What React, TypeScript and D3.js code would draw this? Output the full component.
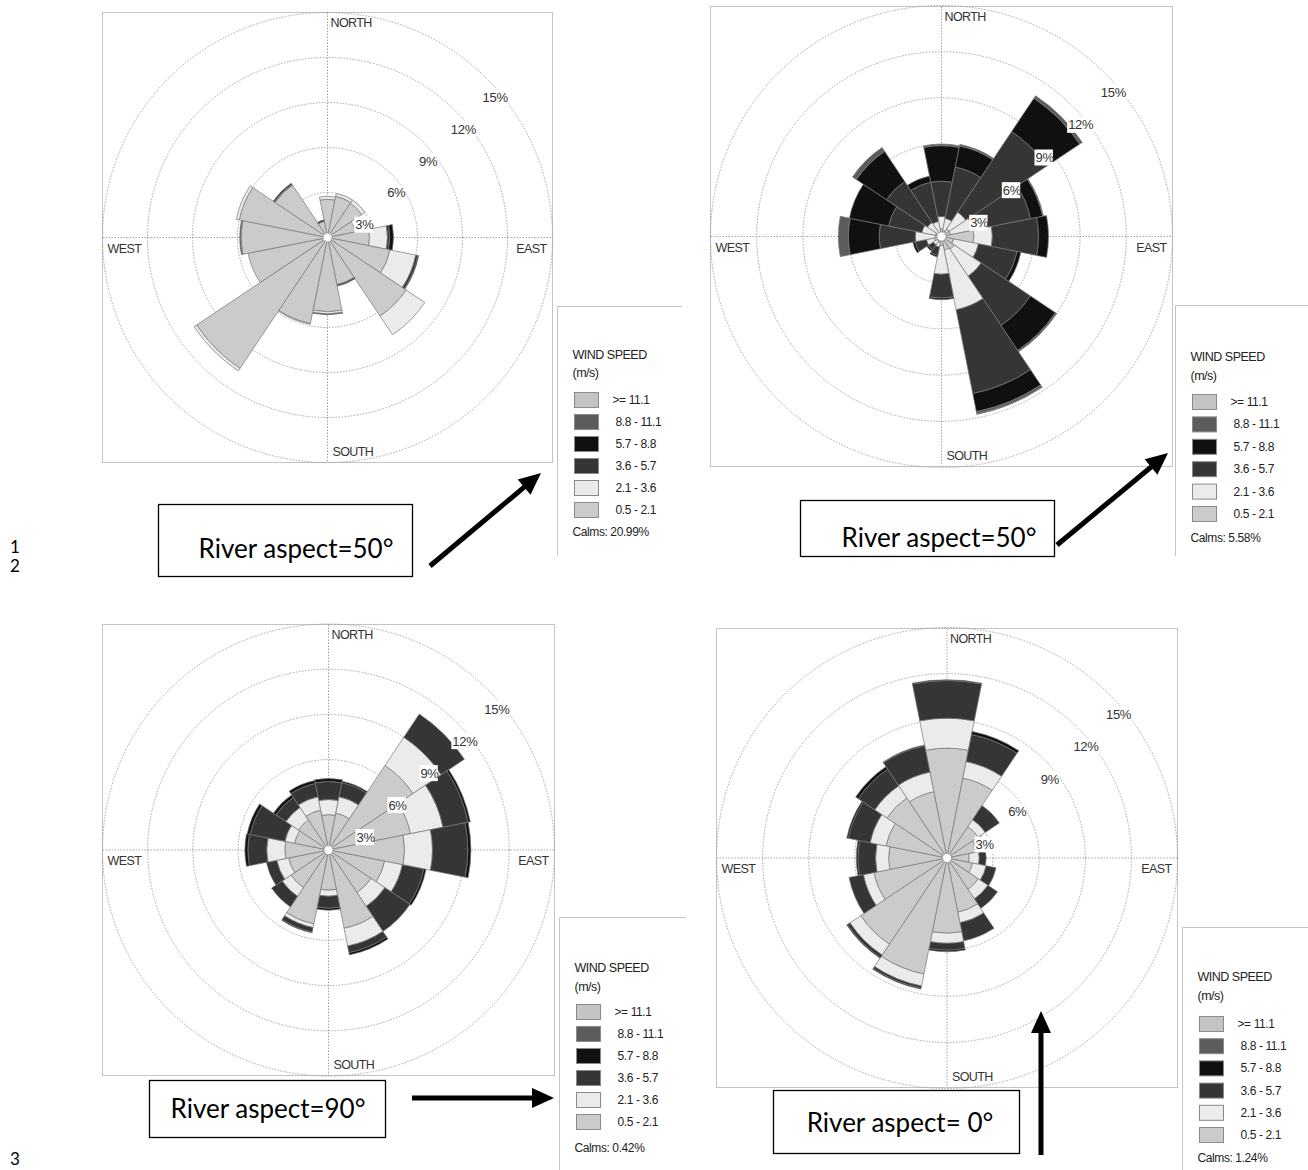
import React from 'react';
import * as d3 from 'd3';

// ---------- data ----------
const DIRECTIONS = ['N', 'NNE', 'NE', 'ENE', 'E', 'ESE', 'SE', 'SSE', 'S', 'SSW', 'SW', 'WSW', 'W', 'WNW', 'NW', 'NNW'];
const SPEED_BINS = ['0.5 - 2.1', '2.1 - 3.6', '3.6 - 5.7', '5.7 - 8.8', '8.8 - 11.1', '>= 11.1'];
const BIN_COLORS = ['#cbcbcb', '#ebebeb', '#353535', '#101010', '#5c5c5c', '#c4c4c4'];
const LEGEND_LABELS = ['>= 11.1', '8.8 - 11.1', '5.7 -  8.8', '3.6 -  5.7', '2.1 -  3.6', '0.5 -  2.1'];
const RING_VALUES = [3, 6, 9, 12, 15];
const RING_LABELS = ['3%', '6%', '9%', '12%', '15%'];
const COMPASS = ['NORTH', 'EAST', 'SOUTH', 'WEST'];
const CALMS = ['Calms: 20.99%', 'Calms: 5.58%', 'Calms: 0.42%', 'Calms: 1.24%'];
const ASPECTS = ['River aspect=50°', 'River aspect=50°', 'River aspect=90°', 'River aspect= 0°'];
const LINE_NUMBERS = ['1', '2', '3'];

// panel 1 (% per direction, per speed bin)
const p1Bin05 = [2.55, 2.8, 2.75, 1.9, 2.8, 4.25, 6.3, 3.2, 4.95, 5.85, 10.5, 5.4, 5.75, 6.0, 4.2, 1.1];
const p1Bin21 = [0.2, 0.2, 0.25, 0, 1.2, 1.75, 1.5, 0.02, 0.15, 0.05, 0.2, 0, 0.05, 0.2, 0.05, 0];
const p1Bin36 = [0, 0, 0, 0, 0.15, 0.15, 0, 0.08, 0.05, 0, 0, 0, 0.05, 0, 0.1, 0.1];
const p1Bin57 = [0, 0, 0, 0, 0.25, 0.05, 0, 0, 0, 0, 0, 0, 0, 0, 0, 0];
const p1Bin88 = [0, 0, 0, 0, 0, 0, 0, 0, 0, 0, 0, 0, 0, 0, 0, 0];
const p1Bin111 = [0, 0, 0, 0, 0, 0, 0, 0, 0, 0, 0, 0, 0, 0, 0, 0];

// panel 2
const p2Bin05 = [0.5, 0.4, 0.6, 0.6, 2.1, 0.8, 1.0, 0.9, 0.6, 0.4, 0.35, 0.5, 0.4, 0.4, 0.3, 0.3];
const p2Bin21 = [0.8, 0.8, 1.3, 1.5, 1.2, 1.65, 2.1, 3.95, 1.85, 0.3, 0.3, 0.5, 1.3, 0.9, 0.8, 0.7];
const p2Bin36 = [2.3, 3.4, 6.3, 3.8, 3.0, 2.55, 3.85, 5.55, 1.55, 0.55, 0.4, 0.75, 2.35, 2.2, 3.2, 2.6];
const p2Bin57 = [2.3, 1.4, 2.6, 0.8, 0.65, 0.25, 1.95, 1.2, 0.1, 0.1, 0.1, 0.15, 2.0, 2.6, 2.35, 0.4];
const p2Bin88 = [0.1, 0.1, 0.2, 0.05, 0, 0, 0.1, 0.15, 0, 0, 0, 0, 0.65, 0, 0.3, 0];
const p2Bin111 = [0, 0, 0, 0, 0, 0, 0, 0.03, 0, 0, 0, 0, 0, 0, 0, 0];

// panel 3
const p3Bin05 = [2.35, 2.5, 6.75, 5.55, 5.05, 3.8, 3.4, 5.3, 2.67, 5.0, 3.0, 2.7, 2.9, 2.3, 2.4, 2.7];
const p3Bin21 = [1.0, 1.1, 2.25, 2.2, 1.85, 1.2, 1.1, 1.2, 0.4, 0.25, 0.7, 0.8, 1.2, 0.65, 1.0, 0.9];
const p3Bin36 = [1.2, 0.95, 1.85, 1.7, 2.35, 1.45, 2.0, 0.45, 0.8, 0.3, 0.85, 0.7, 1.25, 2.35, 0.8, 0.9];
const p3Bin57 = [0.2, 0.1, 0, 0.15, 0.2, 0.15, 0, 0.15, 0.13, 0.05, 0, 0, 0.2, 0.2, 0.2, 0.2];
const p3Bin88 = [0, 0, 0, 0, 0, 0, 0, 0, 0, 0, 0, 0, 0, 0, 0, 0];
const p3Bin111 = [0, 0, 0, 0, 0, 0, 0, 0, 0, 0, 0, 0, 0, 0, 0, 0];

// panel 4
const p4Bin05 = [7.15, 5.3, 2.45, 2.0, 1.45, 1.7, 2.45, 3.6, 4.9, 7.7, 6.75, 4.85, 3.8, 4.05, 4.7, 4.4];
const p4Bin21 = [1.95, 1.1, 0.55, 0.4, 0.65, 0.9, 0.75, 0.7, 0.65, 0.8, 0.85, 0.7, 0.85, 1.05, 0.95, 1.3];
const p4Bin36 = [2.45, 1.8, 1.1, 0.25, 0.45, 0.65, 0.75, 1.2, 0.45, 0.15, 0.2, 0.95, 1.15, 1.45, 1.3, 1.75];
const p4Bin57 = [0.05, 0.2, 0, 0, 0, 0, 0, 0, 0.1, 0.05, 0.05, 0, 0.1, 0.1, 0.2, 0.05];
const p4Bin88 = [0, 0, 0, 0, 0, 0, 0, 0, 0, 0, 0, 0, 0, 0, 0, 0];
const p4Bin111 = [0, 0, 0, 0, 0, 0, 0, 0, 0, 0, 0, 0, 0, 0, 0, 0];

const PANEL_DATA = [
  [p1Bin05, p1Bin21, p1Bin36, p1Bin57, p1Bin88, p1Bin111],
  [p2Bin05, p2Bin21, p2Bin36, p2Bin57, p2Bin88, p2Bin111],
  [p3Bin05, p3Bin21, p3Bin36, p3Bin57, p3Bin88, p3Bin111],
  [p4Bin05, p4Bin21, p4Bin36, p4Bin57, p4Bin88, p4Bin111],
];

// ---------- layout ----------
const PANELS = [
  { x0: 102.5, y0: 12.5, x1: 552.5, y1: 462.5, legend: { x: 557.5, y: 306.5, x2: 682, y2: 556, top: 355, mps: 373, row0: 400, step: 22, calms: 532 } },
  { x0: 710.5, y0: 6.5, x1: 1172.5, y1: 466.5, legend: { x: 1175.5, y: 305.5, x2: 1308, y2: 556, top: 357, mps: 376, row0: 402, step: 22.4, calms: 538 } },
  { x0: 102.5, y0: 624.5, x1: 554.5, y1: 1075.5, legend: { x: 559.5, y: 917.5, x2: 686, y2: 1170, top: 968, mps: 987, row0: 1012, step: 22, calms: 1148 } },
  { x0: 716.5, y0: 628.5, x1: 1177.5, y1: 1087.5, legend: { x: 1182.5, y: 927.5, x2: 1308, y2: 1170, top: 977, mps: 996, row0: 1024, step: 22.2, calms: 1158 } },
];

const TEXT_BOXES = [
  { x: 158.5, y: 504.5, w: 254, h: 72, tx: 296, ty: 548 },
  { x: 800.5, y: 500.5, w: 254, h: 56, tx: 939, ty: 537 },
  { x: 149.5, y: 1080.5, w: 236, h: 57, tx: 268, ty: 1108 },
  { x: 773.5, y: 1090.5, w: 246, h: 63, tx: 900, ty: 1122 },
];

const ARROWS = [
  { x1: 430, y1: 566, x2: 541, y2: 473 },
  { x1: 1057, y1: 545, x2: 1168, y2: 453 },
  { x1: 412, y1: 1098, x2: 554, y2: 1098 },
  { x1: 1041, y1: 1155, x2: 1041, y2: 1011 },
];

const SANS = '"Liberation Sans", Arial, sans-serif';
const CAL = 'Lato, "Open Sans", sans-serif';

function Rose({ idx }: { idx: number }) {
  const p = PANELS[idx];
  const cx = (p.x0 + p.x1) / 2;
  const cy = (p.y0 + p.y1) / 2;
  const R = (p.x1 - p.x0) / 2;
  const r = d3.scaleLinear().domain([0, 15]).range([0, R]);
  const step = (2 * Math.PI) / DIRECTIONS.length;
  const arc = d3.arc<any>();
  const bins = PANEL_DATA[idx];
  const segs: any[] = [];
  DIRECTIONS.forEach((d, i) => {
    let cum = 0;
    bins.forEach((arr, b) => {
      const v = arr[i];
      if (v <= 0) return;
      const a0 = cum;
      cum += v;
      segs.push({
        key: `${i}-${b}`,
        b,
        path: arc({
          innerRadius: r(a0),
          outerRadius: r(cum),
          startAngle: i * step - step / 2,
          endAngle: i * step + step / 2,
        }),
      });
    });
  });
  const grid = '#9a9a9a';
  const lg = p.legend;
  return (
    <g>
      <rect x={p.x0} y={p.y0} width={p.x1 - p.x0} height={p.y1 - p.y0} fill="#fff" stroke="#c4c4c4" strokeWidth={1} />
      {RING_VALUES.map((v) => (
        <circle key={v} cx={cx} cy={cy} r={r(v)} fill="none" stroke={grid} strokeWidth={0.9} strokeDasharray="1.5 1.5" />
      ))}
      <line x1={p.x0} x2={p.x1} y1={cy} y2={cy} stroke={grid} strokeWidth={0.9} strokeDasharray="1.5 1.5" />
      <line x1={cx} x2={cx} y1={p.y0} y2={p.y1} stroke={grid} strokeWidth={0.9} strokeDasharray="1.5 1.5" />
      <g transform={`translate(${cx},${cy})`}>
        {segs.map((s) => (
          <path key={s.key} d={s.path} fill={BIN_COLORS[s.b]} stroke="#777" strokeWidth={0.7} />
        ))}
        <circle r={4.5} fill="#fff" stroke="#888" strokeWidth={0.6} />
      </g>
      {RING_VALUES.map((v, k) => {
        const rr = r(v) * Math.SQRT1_2;
        const lab = RING_LABELS[k];
        const w = lab.length * 8.2;
        const tx = cx + rr - 4;
        const ty = cy - rr + 19;
        return (
          <g key={lab}>
            <rect x={tx - 1} y={ty - 8} width={w + 2} height={16} fill="#fff" />
            <text x={tx} y={ty} dominantBaseline="central" fontFamily={SANS} fontSize={13} letterSpacing={-0.3} fill="#333">
              {lab}
            </text>
          </g>
        );
      })}
      <text x={cx + 3} y={p.y0 + 10} dominantBaseline="central" fontFamily={SANS} fontSize={12.5} letterSpacing={-0.6} fill="#333">{COMPASS[0]}</text>
      <text x={p.x1 - 6} y={cy + 11} textAnchor="end" dominantBaseline="central" fontFamily={SANS} fontSize={12.5} letterSpacing={-0.6} fill="#333">{COMPASS[1]}</text>
      <text x={cx + 5} y={p.y1 - 11} dominantBaseline="central" fontFamily={SANS} fontSize={12.5} letterSpacing={-0.6} fill="#333">{COMPASS[2]}</text>
      <text x={p.x0 + 5} y={cy + 11} dominantBaseline="central" fontFamily={SANS} fontSize={12.5} letterSpacing={-0.6} fill="#333">{COMPASS[3]}</text>

      {/* legend */}
      <line x1={lg.x} x2={lg.x2} y1={lg.y} y2={lg.y} stroke="#c4c4c4" />
      <line x1={lg.x} x2={lg.x} y1={lg.y} y2={lg.y2} stroke="#c4c4c4" />
      <text x={lg.x + 15} y={lg.top} dominantBaseline="central" fontFamily={SANS} fontSize={12.5} letterSpacing={-0.5} fill="#222">WIND SPEED</text>
      <text x={lg.x + 15} y={lg.mps} dominantBaseline="central" fontFamily={SANS} fontSize={12.5} letterSpacing={-0.5} fill="#222">(m/s)</text>
      {LEGEND_LABELS.map((lab, k) => {
        const yy = lg.row0 + k * lg.step;
        const colorIdx = SPEED_BINS.length - 1 - k;
        return (
          <g key={lab}>
            <rect x={lg.x + 17} y={yy - 7.5} width={24} height={15} fill={BIN_COLORS[colorIdx]} stroke="#8a8a8a" strokeWidth={1} />
            <text x={lg.x + (k === 0 ? 55 : 58)} y={yy} dominantBaseline="central" fontFamily={SANS} fontSize={12} letterSpacing={-0.4} fill="#222">{lab}</text>
          </g>
        );
      })}
      <text x={lg.x + 15} y={lg.calms} dominantBaseline="central" fontFamily={SANS} fontSize={12} letterSpacing={-0.4} fill="#222">{CALMS[idx]}</text>
    </g>
  );
}

function Arrow({ a }: { a: { x1: number; y1: number; x2: number; y2: number } }) {
  const ang = Math.atan2(a.y2 - a.y1, a.x2 - a.x1);
  const L = 22;
  const W = 10;
  const bx = a.x2 - L * Math.cos(ang);
  const by = a.y2 - L * Math.sin(ang);
  const px = -Math.sin(ang);
  const py = Math.cos(ang);
  const pts = [
    [a.x2, a.y2],
    [bx + W * px, by + W * py],
    [bx - W * px, by - W * py],
  ];
  return (
    <g>
      <line x1={a.x1} y1={a.y1} x2={bx + 2 * Math.cos(ang)} y2={by + 2 * Math.sin(ang)} stroke="#000" strokeWidth={5} />
      <polygon points={pts.map((q) => q.join(',')).join(' ')} fill="#000" />
    </g>
  );
}

export default function App() {
  return (
    <svg width={1308} height={1170} style={{ position: 'absolute', left: 0, top: 0, background: '#fff' }}>
      <rect width={1308} height={1170} fill="#fff" />
      {PANELS.map((_, i) => (
        <Rose key={i} idx={i} />
      ))}
      {TEXT_BOXES.map((b, i) => (
        <g key={i}>
          <rect x={b.x} y={b.y} width={b.w} height={b.h} fill="#fff" stroke="#000" strokeWidth={1.3} />
          <text x={b.tx} y={b.ty} textAnchor="middle" dominantBaseline="central" fontFamily={CAL} fontSize={26} fill="#000">{ASPECTS[i]}</text>
        </g>
      ))}
      {ARROWS.map((a, i) => (
        <Arrow key={i} a={a} />
      ))}
      <text x={10} y={546} dominantBaseline="central" fontFamily={CAL} fontSize={17} fill="#000">{LINE_NUMBERS[0]}</text>
      <text x={10} y={565} dominantBaseline="central" fontFamily={CAL} fontSize={17} fill="#000">{LINE_NUMBERS[1]}</text>
      <text x={10} y={1158} dominantBaseline="central" fontFamily={CAL} fontSize={17} fill="#000">{LINE_NUMBERS[2]}</text>
    </svg>
  );
}
